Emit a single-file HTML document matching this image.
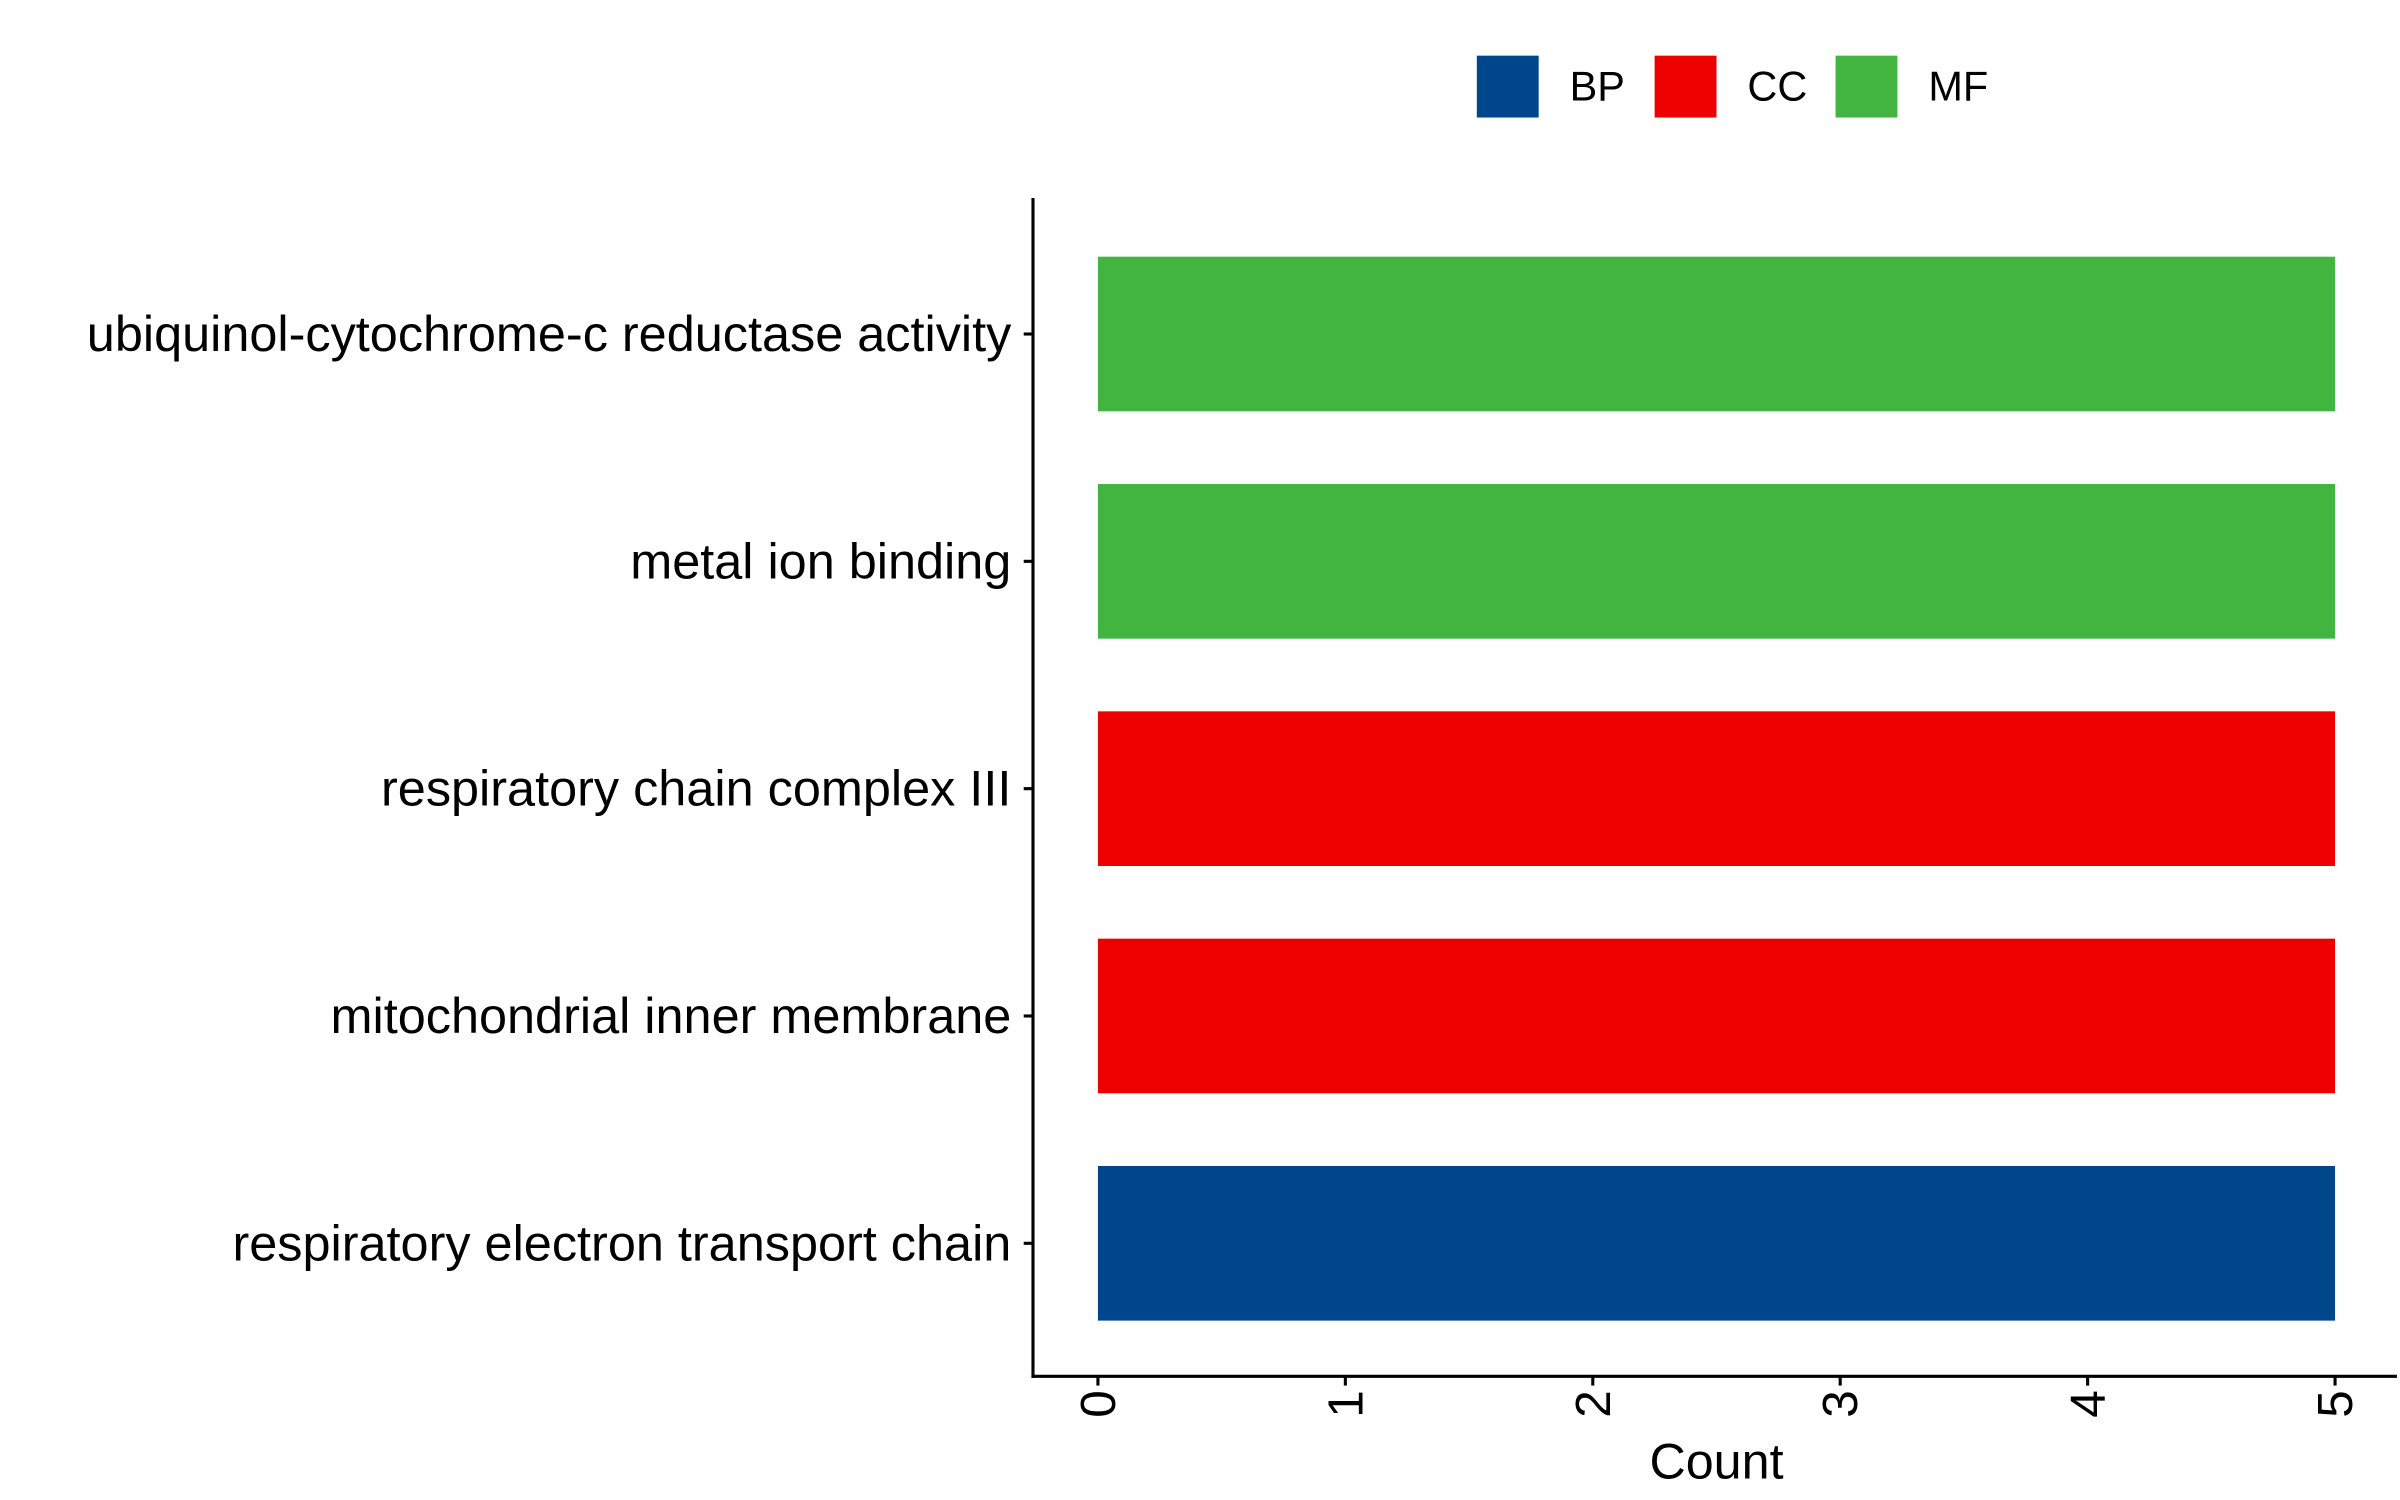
<!DOCTYPE html>
<html><head><meta charset="utf-8"><style>
html,body{margin:0;padding:0;background:#fff;}
svg{display:block;font-family:"Liberation Sans",Arial,sans-serif;}
</style></head><body>
<svg id="chart" width="2400" height="1500" viewBox="0 0 1552 970" preserveAspectRatio="none" xmlns="http://www.w3.org/2000/svg">
<g id="legend"></g>
<g id="bars"></g>
<g id="axes"></g>
</svg>
<script>
const categories = ["respiratory electron transport chain","mitochondrial inner membrane","respiratory chain complex III","metal ion binding","ubiquinol-cytochrome-c reductase activity"];
const counts = [5,5,5,5,5];
const groups = ["BP","CC","CC","MF","MF"];
const legendLabels = ["BP","CC","MF"];
const xTicks = [0,1,2,3,4,5];
const colors = {BP:"#00468B",CC:"#ED0000",MF:"#42B540"};

const NS="http://www.w3.org/2000/svg";
function mk(tag,attrs,parent,text){const e=document.createElementNS(NS,tag);for(const k in attrs)e.setAttribute(k,attrs[k]);if(text!==undefined)e.textContent=text;parent.appendChild(e);return e;}
const x0=710,x5=1510,xMax=5;
const xs=v=>x0+(x5-x0)*v/xMax;
const rowStep=147;
const ys=i=>804-rowStep*i;
const barH=100;
const bars=document.getElementById('bars'),axes=document.getElementById('axes'),legend=document.getElementById('legend');

categories.forEach((c,i)=>{
  const r=mk('rect',{x:xs(0),y:ys(i)-barH/2,width:xs(counts[i])-xs(0),height:barH,fill:colors[groups[i]]},bars);
  
  
  mk('line',{x1:662,x2:668,y1:ys(i),y2:ys(i),stroke:'#000','stroke-width':2},axes);
  const t=mk('text',{x:654,y:ys(i)+11,'text-anchor':'end','font-size':32.6,fill:'#000'},axes,c);
  
  
});
mk('line',{x1:668,x2:668,y1:128,y2:891,stroke:'#000','stroke-width':2},axes);
mk('line',{x1:667,x2:1550,y1:890,y2:890,stroke:'#000','stroke-width':2},axes);
xTicks.forEach(v=>{
  mk('line',{x1:xs(v),x2:xs(v),y1:890,y2:896,stroke:'#000','stroke-width':2},axes);
  const t=mk('text',{x:0,y:0,'text-anchor':'end','font-size':32,fill:'#000',transform:`translate(${xs(v)+11},899) rotate(-90)`},axes,String(v));
  
  
});
const xt=mk('text',{x:1110,y:956,'text-anchor':'middle','font-size':32.5,fill:'#000'},axes,'Count');



const lx=[955,1070,1187];
legendLabels.forEach((g,i)=>{
  const r=mk('rect',{x:lx[i],y:36,width:40,height:40,fill:colors[g]},legend);
  
  
  const t=mk('text',{x:lx[i]+60,y:65,'font-size':26.8,fill:'#000'},legend,g);
  
  
});
</script>
</body></html>
